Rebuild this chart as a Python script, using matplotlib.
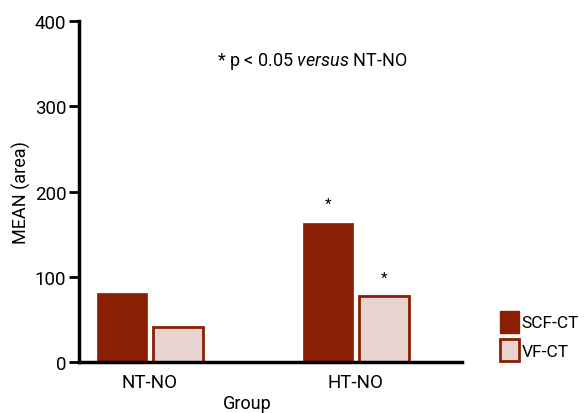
import numpy as np
import matplotlib
matplotlib.use('Agg')
import matplotlib.pyplot as plt
from matplotlib.patches import Patch

# data
groups = ['NT-NO', 'HT-NO']
scf_ct = [81, 163]
vf_ct = [41, 77]
scf_sig = [False, True]
vf_sig = [False, True]

plt.rcParams['font.family'] = ['Roboto', 'DejaVu Sans']
plt.rcParams['mathtext.fontset'] = 'custom'
plt.rcParams['mathtext.it'] = 'Roboto:italic'
plt.rcParams['mathtext.rm'] = 'Roboto'

dark = '#8a1f04'
light = '#e8d3cf'

fig = plt.figure(figsize=(5.84, 4.14), dpi=100)
ax = fig.add_axes([0.135, 0.123, 0.656, 0.824])

x = np.arange(len(groups))
w = 0.243
off = 0.135
ax.bar(x - off, scf_ct, width=w, color=dark, edgecolor=dark, linewidth=0.5)
ax.bar(x + off, vf_ct, width=w, color=light, edgecolor=dark, linewidth=2)

# significance stars
for i in range(len(groups)):
    if scf_sig[i]:
        ax.text(x[i] - off, scf_ct[i] + 14, '*', ha='center', va='bottom', fontsize=11)
    if vf_sig[i]:
        ax.text(x[i] + off, vf_ct[i] + 14, '*', ha='center', va='bottom', fontsize=11)

ax.text(0.608, 0.885, r'* p < 0.05 $\it{versus}$ NT-NO', transform=ax.transAxes,
        ha='center', va='center', fontsize=13)

ax.set_xlim(-0.345, 1.515)
ax.set_ylim(0, 400)
ax.set_yticks([0, 100, 200, 300, 400])
ax.set_xticks(x)
ax.set_xticklabels(groups)
ax.tick_params(axis='y', labelsize=13.5, width=2, length=7, pad=2)
ax.tick_params(axis='x', labelsize=13.5, length=0, pad=8)
ax.set_ylabel('MEAN (area)', fontsize=13, labelpad=3)
fig.text(0.423, 0.002, 'Group', ha='center', va='bottom', fontsize=13)

for s in ['top', 'right']:
    ax.spines[s].set_visible(False)
for s in ['left', 'bottom']:
    ax.spines[s].set_linewidth(2.5)

handles = [Patch(facecolor=dark, edgecolor=dark, label='SCF-CT'),
           Patch(facecolor=light, edgecolor=dark, linewidth=2, label='VF-CT')]
fig.legend(handles=handles, loc='center left', bbox_to_anchor=(0.857, 0.186),
           frameon=False, fontsize=12.5, handlelength=1.05, handleheight=1.6,
           handletextpad=0.15, labelspacing=0.35, borderaxespad=0, borderpad=0)

fig.savefig('out.png', dpi=100, facecolor='white')
